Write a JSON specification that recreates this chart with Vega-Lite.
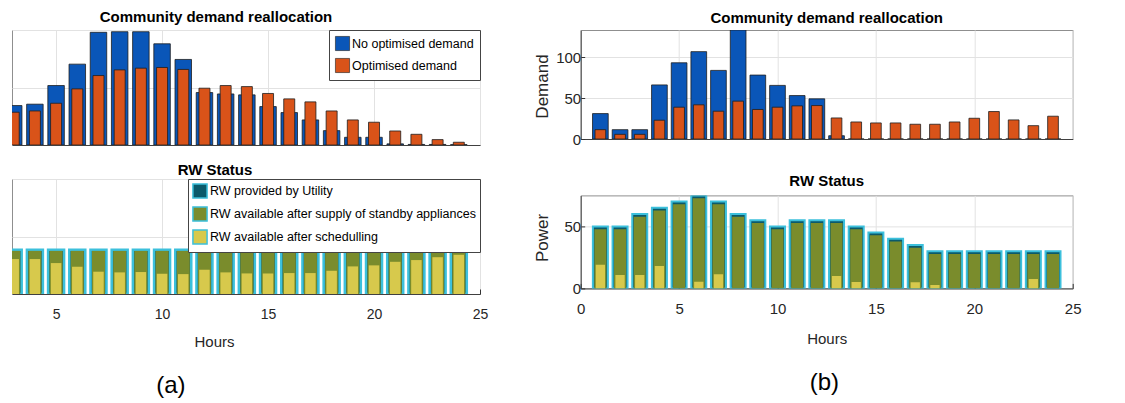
{
  "$schema": "https://vega.github.io/schema/vega-lite/v6.json",
  "background": "white",
  "padding": {"left": 11, "top": 9, "right": 5, "bottom": 0},
  "spacing": 43.7,
  "resolve": {"scale": {"color": "independent"}, "legend": {"color": "independent"}},
  "config": {
    "font": "Liberation Sans, sans-serif",
    "view": {"stroke": "#8f8f8f", "strokeWidth": 1},
    "axis": {"labelColor": "#262626", "titleColor": "#262626", "gridColor": "#e2e2e2", "gridOpacity": 1, "domainColor": "#404040", "tickColor": "#333333", "titleFontWeight": "normal", "labelFont": "Liberation Sans, sans-serif", "titleFont": "Liberation Sans, sans-serif", "labelFlush": false},
    "title": {"font": "Liberation Sans, sans-serif", "fontSize": 15, "fontWeight": "bold", "color": "#000000", "baseline": "alphabetic", "anchor": "middle"},
    "legend": {"labelFont": "Liberation Sans, sans-serif", "labelFontSize": 12.5, "labelLimit": 400, "labelColor": "#000000", "symbolType": "square", "symbolSize": 200, "fillColor": "white", "strokeColor": "#444444", "padding": 6, "rowPadding": 5, "labelOffset": 2, "cornerRadius": 0, "offset": 0, "orient": "top-right", "title": null, "symbolOpacity": 1}
  },
  "datasets": {
    "a_demand": [
      {"hour": 3, "no_opt": 34.3, "opt": 28.5}, {"hour": 4, "no_opt": 35.5, "opt": 29.6}, {"hour": 5, "no_opt": 51.7, "opt": 36.3},
      {"hour": 6, "no_opt": 70.3, "opt": 48.8}, {"hour": 7, "no_opt": 98, "opt": 60.4}, {"hour": 8, "no_opt": 98.5, "opt": 65.3},
      {"hour": 9, "no_opt": 98.5, "opt": 66.8}, {"hour": 10, "no_opt": 88, "opt": 67.4}, {"hour": 11, "no_opt": 74.4, "opt": 65.7},
      {"hour": 12, "no_opt": 45.6, "opt": 49.4}, {"hour": 13, "no_opt": 44.4, "opt": 51.7}, {"hour": 14, "no_opt": 43.6, "opt": 50.8},
      {"hour": 15, "no_opt": 33.4, "opt": 44.8}, {"hour": 16, "no_opt": 28.2, "opt": 40.1}, {"hour": 17, "no_opt": 21.8, "opt": 37.5},
      {"hour": 18, "no_opt": 12.5, "opt": 29.6}, {"hour": 19, "no_opt": 6.7, "opt": 21.8}, {"hour": 20, "no_opt": 6.7, "opt": 19.8},
      {"hour": 21, "no_opt": 1, "opt": 12.2}, {"hour": 22, "no_opt": 0.5, "opt": 9.3}, {"hour": 23, "no_opt": 0.5, "opt": 4.7},
      {"hour": 24, "no_opt": 0.3, "opt": 2.4}
    ],
    "a_rw": [
      {"hour": 3, "utility": 38.5, "standby": 37.5, "scheduled": 30.4}, {"hour": 4, "utility": 38.5, "standby": 37.5, "scheduled": 30.4},
      {"hour": 5, "utility": 38.5, "standby": 37.5, "scheduled": 26.9}, {"hour": 6, "utility": 38.5, "standby": 37.5, "scheduled": 23.7},
      {"hour": 7, "utility": 38.5, "standby": 37.5, "scheduled": 19.4}, {"hour": 8, "utility": 38.5, "standby": 37.5, "scheduled": 18.8},
      {"hour": 9, "utility": 38.5, "standby": 37.5, "scheduled": 19.1}, {"hour": 10, "utility": 38.5, "standby": 37.5, "scheduled": 17.6},
      {"hour": 11, "utility": 38.5, "standby": 37.5, "scheduled": 17.3}, {"hour": 12, "utility": 38.5, "standby": 37.5, "scheduled": 21.1},
      {"hour": 13, "utility": 38.5, "standby": 37.5, "scheduled": 18.8}, {"hour": 14, "utility": 38.5, "standby": 37.5, "scheduled": 17.9},
      {"hour": 15, "utility": 38.5, "standby": 37.5, "scheduled": 17.9}, {"hour": 16, "utility": 38.5, "standby": 37.5, "scheduled": 18.2},
      {"hour": 17, "utility": 38.5, "standby": 37.5, "scheduled": 18.2}, {"hour": 18, "utility": 38.5, "standby": 37.5, "scheduled": 20.2},
      {"hour": 19, "utility": 38.5, "standby": 37.5, "scheduled": 24}, {"hour": 20, "utility": 38.5, "standby": 37.5, "scheduled": 24.9},
      {"hour": 21, "utility": 38.5, "standby": 37.5, "scheduled": 28}, {"hour": 22, "utility": 38.5, "standby": 37.5, "scheduled": 29.5},
      {"hour": 23, "utility": 38.5, "standby": 37.5, "scheduled": 32}, {"hour": 24, "utility": 38.5, "standby": 37.5, "scheduled": 34.1}
    ],
    "b_demand": [
      {"hour": 1, "no_opt": 31, "opt": 11.4}, {"hour": 2, "no_opt": 11.4, "opt": 5.7}, {"hour": 3, "no_opt": 11.4, "opt": 5.7},
      {"hour": 4, "no_opt": 66, "opt": 22.9}, {"hour": 5, "no_opt": 93, "opt": 38.8}, {"hour": 6, "no_opt": 106.6, "opt": 41.7},
      {"hour": 7, "no_opt": 83.7, "opt": 33.9}, {"hour": 8, "no_opt": 133, "opt": 46.2}, {"hour": 9, "no_opt": 78, "opt": 36},
      {"hour": 10, "no_opt": 65.4, "opt": 38.8}, {"hour": 11, "no_opt": 53, "opt": 40.4}, {"hour": 12, "no_opt": 49, "opt": 40.8},
      {"hour": 13, "no_opt": 4, "opt": 25.7}, {"hour": 14, "no_opt": 0, "opt": 20.8}, {"hour": 15, "no_opt": 0, "opt": 19.6},
      {"hour": 16, "no_opt": 0, "opt": 19.6}, {"hour": 17, "no_opt": 0, "opt": 18}, {"hour": 18, "no_opt": 0, "opt": 18},
      {"hour": 19, "no_opt": 0, "opt": 20.8}, {"hour": 20, "no_opt": 0, "opt": 25.3}, {"hour": 21, "no_opt": 0, "opt": 33.5},
      {"hour": 22, "no_opt": 0, "opt": 23.3}, {"hour": 23, "no_opt": 0, "opt": 16.3}, {"hour": 24, "no_opt": 0, "opt": 27.8}
    ],
    "b_rw": [
      {"hour": 1, "utility": 50, "standby": 47.8, "scheduled": 19}, {"hour": 2, "utility": 50, "standby": 47.8, "scheduled": 10.8},
      {"hour": 3, "utility": 60, "standby": 57.8, "scheduled": 10.8}, {"hour": 4, "utility": 65, "standby": 62.8, "scheduled": 18},
      {"hour": 5, "utility": 70, "standby": 67.8, "scheduled": 0}, {"hour": 6, "utility": 75, "standby": 72.8, "scheduled": 5.4},
      {"hour": 7, "utility": 70, "standby": 67.8, "scheduled": 11.4}, {"hour": 8, "utility": 60, "standby": 57.8, "scheduled": 0},
      {"hour": 9, "utility": 55, "standby": 52.8, "scheduled": 0}, {"hour": 10, "utility": 50, "standby": 47.8, "scheduled": 0},
      {"hour": 11, "utility": 55, "standby": 52.8, "scheduled": 0}, {"hour": 12, "utility": 55, "standby": 52.8, "scheduled": 0},
      {"hour": 13, "utility": 55, "standby": 52.8, "scheduled": 10}, {"hour": 14, "utility": 50, "standby": 47.8, "scheduled": 5.1},
      {"hour": 15, "utility": 45, "standby": 42.8, "scheduled": 0}, {"hour": 16, "utility": 40, "standby": 37.8, "scheduled": 0},
      {"hour": 17, "utility": 35, "standby": 32.8, "scheduled": 4.9}, {"hour": 18, "utility": 30, "standby": 27.8, "scheduled": 2.7},
      {"hour": 19, "utility": 30, "standby": 27.8, "scheduled": 0}, {"hour": 20, "utility": 30, "standby": 27.8, "scheduled": 0},
      {"hour": 21, "utility": 30, "standby": 27.8, "scheduled": 0}, {"hour": 22, "utility": 30, "standby": 27.8, "scheduled": 0},
      {"hour": 23, "utility": 30, "standby": 27.8, "scheduled": 7.6}, {"hour": 24, "utility": 30, "standby": 27.8, "scheduled": 0}
    ]
  },
  "hconcat": [
    {
      "bounds": "flush",
      "spacing": 34,
      "resolve": {"scale": {"color": "independent"}, "legend": {"color": "independent"}},
      "title": {"text": "(a)", "orient": "bottom", "fontSize": 24, "fontWeight": "normal", "dx": -79, "offset": 24},
      "vconcat": [
        {
          "width": 468, "height": 115,
          "title": {"text": "Community demand reallocation", "dx": -30, "offset": 5},
          "data": {"name": "a_demand"},
          "encoding": {
            "x": {"field": "hour", "type": "quantitative", "scale": {"domain": [2.92, 25], "nice": false, "zero": false, "padding": 0},
                  "axis": {"values": [5, 10, 15, 20, 25], "labels": false, "ticks": false, "grid": true, "title": null}}
          },
          "layer": [
            {
              "mark": {"type": "bar", "width": 16.5, "clip": true, "stroke": "#1e1e1e", "strokeWidth": 0.8},
              "encoding": {
                "y": {"field": "no_opt", "type": "quantitative", "scale": {"domain": [0, 100], "nice": false},
                      "axis": {"values": [0, 50, 100], "labels": false, "ticks": false, "domain": false, "grid": true, "title": null}},
                "color": {"datum": "No optimised demand", "type": "nominal",
                          "scale": {"domain": ["No optimised demand", "Optimised demand"], "range": ["#0a56b8", "#d95319"]},
                          "legend": {"orient": "top-right", "symbolStrokeColor": "#333333", "symbolStrokeWidth": 0.6}}
              }
            },
            {
              "mark": {"type": "bar", "width": 11, "clip": true, "stroke": "#1e1e1e", "strokeWidth": 0.8},
              "encoding": {
                "y": {"field": "opt", "type": "quantitative"},
                "color": {"datum": "Optimised demand", "type": "nominal"}
              }
            }
          ]
        },
        {
          "width": 468, "height": 115,
          "title": {"text": "RW Status", "dx": -31, "offset": 1},
          "data": {"name": "a_rw"},
          "encoding": {
            "x": {"field": "hour", "type": "quantitative", "scale": {"domain": [2.92, 25], "nice": false, "zero": false, "padding": 0},
                  "axis": {"values": [5, 10, 15, 20, 25], "labelFontSize": 14, "labelPadding": 18, "tickSize": -5, "grid": true,
                           "title": "Hours", "titleFontSize": 15, "titleX": 202, "titleY": 52.5, "titleBaseline": "alphabetic"}}
          },
          "layer": [
            {
              "mark": {"type": "bar", "width": 16, "clip": true, "stroke": "#3cc0dc", "strokeWidth": 2.5},
              "encoding": {
                "y": {"field": "utility", "type": "quantitative", "scale": {"domain": [0, 100], "nice": false},
                      "axis": {"values": [0, 50, 100], "labels": false, "ticks": false, "domain": false, "grid": true, "title": null}},
                "color": {"datum": "RW provided by Utility", "type": "nominal",
                          "scale": {"domain": ["RW provided by Utility", "RW available after supply of standby appliances", "RW available after schedulling"],
                                    "range": ["#0b5a6b", "#7a8c2c", "#d7c94c"]},
                          "legend": {"orient": "top-right", "rowPadding": 1, "padding": 4,
                                     "encode": {"symbols": {"update": {"stroke": {"signal": "datum.value === 'RW provided by Utility' ? '#3cc0dc' : 'transparent'"}, "strokeWidth": {"value": 2}}}}}}
              }
            },
            {
              "mark": {"type": "bar", "width": 13, "clip": true},
              "encoding": {
                "y": {"field": "standby", "type": "quantitative"},
                "color": {"datum": "RW available after supply of standby appliances", "type": "nominal"}
              }
            },
            {
              "mark": {"type": "bar", "width": 10.5, "clip": true},
              "encoding": {
                "y": {"field": "scheduled", "type": "quantitative"},
                "color": {"datum": "RW available after schedulling", "type": "nominal"}
              }
            }
          ]
        }
      ]
    },
    {
      "bounds": "flush",
      "spacing": 56.4,
      "resolve": {"scale": {"color": "independent"}, "legend": {"color": "independent"}},
      "title": {"text": "(b)", "orient": "bottom", "fontSize": 24, "fontWeight": "normal", "dx": 17, "offset": 24},
      "vconcat": [
        {
          "width": 492, "height": 109,
          "title": {"text": "Community demand reallocation", "offset": 4},
          "data": {"name": "b_demand"},
          "encoding": {
            "x": {"field": "hour", "type": "quantitative", "scale": {"domain": [0, 25], "nice": false, "zero": false, "padding": 0},
                  "axis": {"values": [0, 5, 10, 15, 20, 25], "labels": false, "ticks": false, "grid": true, "title": null}}
          },
          "layer": [
            {
              "mark": {"type": "bar", "width": 15.7, "clip": true, "stroke": "#1e1e1e", "strokeWidth": 0.8},
              "encoding": {
                "y": {"field": "no_opt", "type": "quantitative", "scale": {"domain": [0, 133], "nice": false},
                      "axis": {"values": [0, 50, 100], "labelFontSize": 15, "labelPadding": 4, "tickSize": -4, "grid": true,
                               "title": "Demand", "titleFontSize": 17, "titleX": -38, "titleY": 56, "titleBaseline": "middle"}},
                "color": {"datum": "No optimised demand", "type": "nominal",
                          "scale": {"domain": ["No optimised demand", "Optimised demand"], "range": ["#0a56b8", "#d95319"]},
                          "legend": null}
              }
            },
            {
              "mark": {"type": "bar", "width": 10.7, "clip": true, "stroke": "#1e1e1e", "strokeWidth": 0.8},
              "encoding": {
                "y": {"field": "opt", "type": "quantitative"},
                "color": {"datum": "Optimised demand", "type": "nominal", "legend": null}
              }
            }
          ]
        },
        {
          "width": 492, "height": 93,
          "title": {"text": "RW Status", "offset": 6},
          "data": {"name": "b_rw"},
          "encoding": {
            "x": {"field": "hour", "type": "quantitative", "scale": {"domain": [0, 25], "nice": false, "zero": false, "padding": 0},
                  "axis": {"values": [0, 5, 10, 15, 20, 25], "labelFontSize": 15, "labelPadding": 18, "tickSize": -5, "grid": true,
                           "title": "Hours", "titleFontSize": 15, "titleY": 55, "titleBaseline": "alphabetic"}}
          },
          "layer": [
            {
              "mark": {"type": "bar", "width": 15, "clip": true, "stroke": "#3cc0dc", "strokeWidth": 2},
              "encoding": {
                "y": {"field": "utility", "type": "quantitative", "scale": {"domain": [0, 75], "nice": false},
                      "axis": {"values": [0, 50], "labelFontSize": 15, "labelPadding": 4, "tickSize": -4, "grid": true,
                               "title": "Power", "titleFontSize": 17, "titleX": -38, "titleY": 42, "titleBaseline": "middle"}},
                "color": {"datum": "RW provided by Utility", "type": "nominal",
                          "scale": {"domain": ["RW provided by Utility", "RW available after supply of standby appliances", "RW available after schedulling"],
                                    "range": ["#0b5a6b", "#7a8c2c", "#d7c94c"]},
                          "legend": null}
              }
            },
            {
              "mark": {"type": "bar", "width": 12, "clip": true},
              "encoding": {
                "y": {"field": "standby", "type": "quantitative"},
                "color": {"datum": "RW available after supply of standby appliances", "type": "nominal", "legend": null}
              }
            },
            {
              "mark": {"type": "bar", "width": 9.3, "clip": true},
              "encoding": {
                "y": {"field": "scheduled", "type": "quantitative"},
                "color": {"datum": "RW available after schedulling", "type": "nominal", "legend": null}
              }
            }
          ]
        }
      ]
    }
  ]
}
